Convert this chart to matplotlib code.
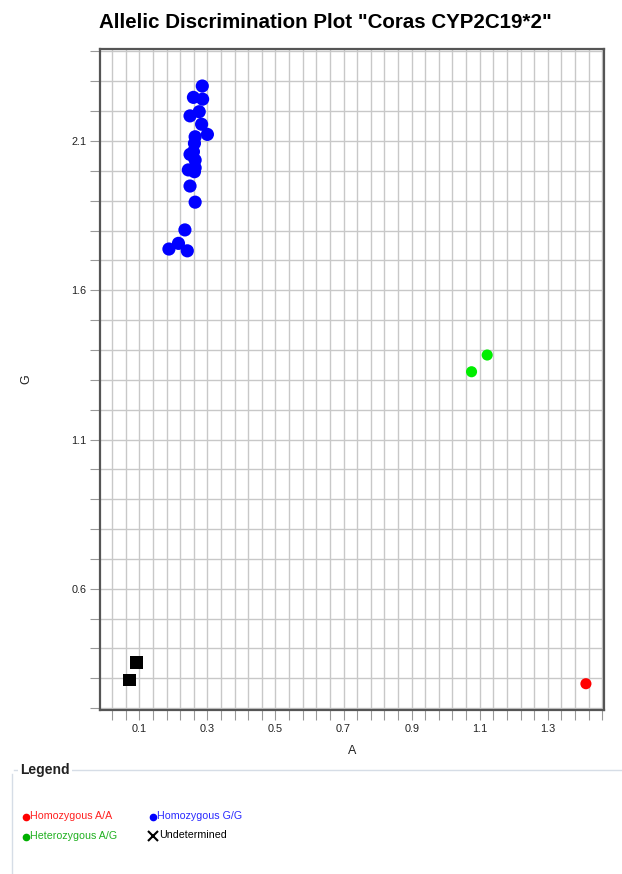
import numpy as np
import matplotlib
matplotlib.use("Agg")
import matplotlib.pyplot as plt
from matplotlib.lines import Line2D
from matplotlib.ticker import FixedLocator, NullFormatter

plt.rcParams['font.family'] = ['Liberation Sans', 'DejaVu Sans']

# ---- data (allele A signal on x, allele G signal on y) ----
gg_x = [0.285, 0.259, 0.286, 0.276, 0.249, 0.283, 0.300, 0.264, 0.262, 0.259,
        0.249, 0.264, 0.244, 0.264, 0.262, 0.249, 0.264, 0.234, 0.215, 0.187, 0.241]
gg_y = [2.284, 2.246, 2.240, 2.198, 2.184, 2.156, 2.122, 2.114, 2.092, 2.064,
        2.055, 2.036, 2.003, 2.010, 1.997, 1.949, 1.895, 1.802, 1.757, 1.738, 1.732]
ag_x = [1.122, 1.076]
ag_y = [1.383, 1.327]
aa_x = [1.412]
aa_y = [0.282]
und_x = [0.092, 0.071]
und_y = [0.353, 0.294]

x_major = [0.1, 0.3, 0.5, 0.7, 0.9, 1.1, 1.3]
y_major = [0.6, 1.1, 1.6, 2.1]
x_labels = ["0.1", "0.3", "0.5", "0.7", "0.9", "1.1", "1.3"]
y_labels = ["0.6", "1.1", "1.6", "2.1"]

legend_items = ["Homozygous A/A", "Homozygous G/G", "Heterozygous A/G", "Undetermined"]

W, H = 622, 874
fig = plt.figure(figsize=(W / 100, H / 100), dpi=100)
ax = fig.add_axes([100.3 / W, 1 - 710 / H, (604.3 - 100.3) / W, (710 - 49.3) / H])

ax.set_xlim(-0.0146, 1.466)
ax.set_ylim(0.194, 2.407)

xminor = [round(0.02 + 0.04 * i, 3) for i in range(37)]
yminor = [round(0.2 + 0.1 * i, 3) for i in range(23)]
ax.xaxis.set_major_locator(FixedLocator(x_major))
ax.set_xticklabels(x_labels)
ax.yaxis.set_major_locator(FixedLocator(y_major))
ax.set_yticklabels(y_labels)
ax.xaxis.set_minor_locator(FixedLocator(xminor))
ax.yaxis.set_minor_locator(FixedLocator(yminor))
ax.xaxis.set_minor_formatter(NullFormatter())
ax.yaxis.set_minor_formatter(NullFormatter())

ax.grid(True, which='both', color='#c8c8c8', linewidth=1.0)
ax.set_axisbelow(True)
for sp in ax.spines.values():
    sp.set_color('#555555')
    sp.set_linewidth(1.6)
ax.tick_params(which='both', direction='out', length=7, width=0.8, color='#999999',
               labelsize=7.8, labelcolor='#222222', pad=3)

ax.scatter(gg_x, gg_y, s=90, c='#0000ff', edgecolors='none', zorder=3)
ax.scatter(ag_x, ag_y, s=64, c='#00ee00', edgecolors='none', zorder=3)
ax.scatter(aa_x, aa_y, s=64, c='#ff0000', edgecolors='none', zorder=3)
ax.scatter(und_x, und_y, s=78, c='#000000', marker='s', edgecolors='none', zorder=3)

ax.set_xlabel("A", fontsize=9, color='#222222', labelpad=8)
ax.set_ylabel("G", fontsize=9, color='#222222', labelpad=28)

fig.text(325 / W, 1 - 23 / H, 'Allelic Discrimination Plot "Coras CYP2C19*2"',
         ha='center', va='center', fontsize=14.8, fontweight='bold', color='#000000')

# legend frame
fig.add_artist(Line2D([14 / W, 1.0], [1 - 770 / H, 1 - 770 / H], transform=fig.transFigure,
                      color='#d6dde6', linewidth=1.0))
fig.add_artist(Line2D([12 / W, 12 / W], [1 - 774 / H, 0.0], transform=fig.transFigure,
                      color='#d6dde6', linewidth=1.0))
fig.text(20 / W, 1 - 770 / H, "Legend", ha='left', va='center', fontsize=10,
         fontweight='bold', color='#222222',
         bbox=dict(facecolor='white', edgecolor='none', pad=1.5))

leg_colors_marker = ['#ff0000', '#0000ff', '#00b000', '#000000']
leg_colors_text = ['#ff2020', '#2a2aff', '#20b020', '#000000']
leg_pos = [(26, 817), (153, 817), (26, 837), (153, 836)]
for i, (lab, (px, py)) in enumerate(zip(legend_items, leg_pos)):
    if lab == "Undetermined":
        fig.add_artist(Line2D([px / W], [1 - py / H], transform=fig.transFigure,
                              marker='x', markersize=7, markeredgewidth=1.5,
                              color=leg_colors_marker[i], linestyle='none'))
        tx = px + 6
    else:
        fig.add_artist(Line2D([px / W], [1 - py / H], transform=fig.transFigure,
                              marker='o', markersize=4.5, color=leg_colors_marker[i],
                              linestyle='none'))
        tx = px + 4
    fig.text(tx / W, 1 - (py - 1) / H, lab, ha='left', va='center', fontsize=7.7,
             color=leg_colors_text[i])

fig.savefig("out.png", dpi=100)
